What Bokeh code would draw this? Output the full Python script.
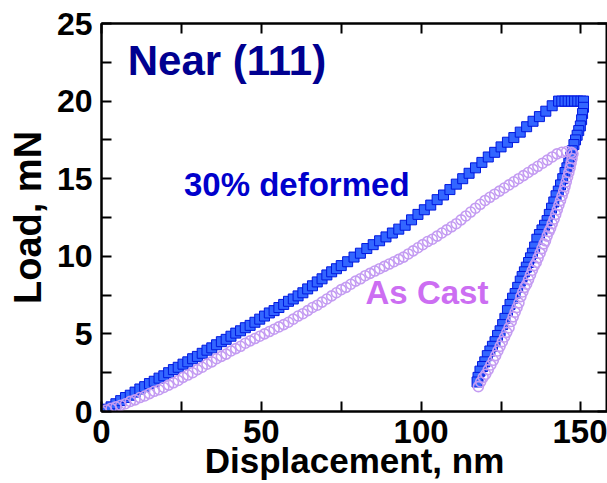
from bokeh.plotting import figure
from bokeh.models import Range1d, FixedTicker, LinearAxis, Label
from bokeh.embed import file_html
from bokeh.resources import INLINE

# ---------------- data ----------------
# 30% deformed: loading, hold, unloading
def_load_x = [0, 1.5, 3, 4.5, 6, 7.5, 9, 10.5, 12, 13.5, 15, 16.5, 18, 19.5, 21, 22.5, 24, 25.5,
              27, 28.5, 30, 31.5, 33, 34.5, 36, 37.5, 39, 40.5, 42, 43.5, 45, 46.5, 48, 49.5,
              51, 52.5, 54, 55.5, 57, 58.5, 60, 61.5, 63, 64.5, 66, 67.5, 69, 70.5, 72, 73.5,
              75, 77, 79, 81, 83, 85, 87, 89, 91, 93, 95, 97, 99, 101, 103, 105, 107, 109, 111,
              113, 115, 117, 119, 121, 123, 125, 127, 129, 131, 133, 135, 137, 139, 141, 143]
def_load_y = [0.0, 0.15, 0.3, 0.5, 0.7, 0.9, 1.05, 1.25, 1.45, 1.6, 1.8, 1.95, 2.15, 2.3, 2.5, 2.7,
              2.85, 3.05, 3.2, 3.4, 3.55, 3.75, 3.95, 4.1, 4.3, 4.5, 4.65, 4.85, 5.05, 5.2, 5.4,
              5.55, 5.75, 5.95, 6.15, 6.35, 6.5, 6.7, 6.9, 7.1, 7.25, 7.45, 7.65, 7.9, 8.1, 8.35,
              8.55, 8.8, 9.0, 9.2, 9.4, 9.65, 9.95, 10.2, 10.5, 10.75, 11.0, 11.25, 11.5, 11.75,
              12.0, 12.35, 12.7, 13.0, 13.3, 13.65, 13.95, 14.3, 14.65, 15.0, 15.35, 15.7, 16.05,
              16.4, 16.7, 17.05, 17.35, 17.65, 18.0, 18.35, 18.7, 19.0, 19.35, 19.7, 20.0]
def_hold_x = [144, 145, 146, 147, 148, 149, 150, 150.8]
def_hold_y = [20.0, 20.0, 20.0, 20.0, 20.0, 20.0, 20.0, 20.0]
def_unload_x = [150.8, 150.5, 150.2, 149.8, 149.3, 148.8, 148.3, 147.8, 147.3, 146.8, 146.2, 145.6,
                145.0, 144.3, 143.6, 142.9, 142.2, 141.5, 140.8, 140.1, 139.4, 138.6, 137.8, 137.0,
                136.2, 135.5, 134.8, 134.2, 133.6, 132.9, 132.3, 131.6, 131.0, 130.2, 129.4, 128.6,
                127.8, 127.0, 126.2, 125.5, 124.7, 123.9, 123.1, 122.3, 121.5, 120.7, 119.9, 119.2,
                118.4, 117.8, 117.5]
def_unload_y = [19.6, 19.2, 18.8, 18.4, 18.1, 17.8, 17.5, 17.2, 16.8, 16.4, 16.0, 15.7, 15.4, 15.0,
                14.6, 14.2, 13.9, 13.5, 13.1, 12.7, 12.3, 12.0, 11.7, 11.4, 11.1, 10.6, 10.2, 9.9,
                9.6, 9.3, 9.0, 8.7, 8.4, 8.0, 7.6, 7.3, 6.9, 6.5, 6.0, 5.6, 5.2, 4.9, 4.5, 4.2, 3.9,
                3.6, 3.2, 2.9, 2.6, 2.2, 1.9]

# As cast: loading, unloading
cast_load_x = [0, 1.5, 3, 4.5, 6, 7.5, 9, 10.5, 12, 13.5, 15, 16.5, 18, 19.5, 21, 22.5, 24, 25.5,
               27, 28.5, 30, 31.5, 33, 34.5, 36, 37.5, 39, 40.5, 42, 43.5, 45, 46.5, 48, 49.5,
               51, 52.5, 54, 55.5, 57, 58.5, 60, 61.5, 63, 64.5, 66, 67.5, 69, 70.5, 72, 73.5,
               75, 76.5, 78, 79.5, 81, 82.5, 84, 85.5, 87, 88.5, 90, 91.5, 93, 94.5, 96, 97.5,
               99, 100.5, 102, 103.5, 105, 106.5, 108, 109.5, 111, 112.5, 114, 115.5, 117, 118.5,
               120, 121.5, 123, 124.5, 126, 127.5, 129, 130.5, 132, 133.5, 135, 136.5, 138, 139.5,
               141, 142.5, 144, 145.5, 147]
cast_load_y = [0.0, 0.1, 0.2, 0.3, 0.4, 0.5, 0.65, 0.75, 0.9, 1.0, 1.15, 1.3, 1.4, 1.55, 1.7, 1.85,
               2.0, 2.2, 2.35, 2.5, 2.7, 2.85, 3.05, 3.2, 3.4, 3.55, 3.7, 3.9, 4.05, 4.2, 4.4, 4.55,
               4.7, 4.85, 5.0, 5.15, 5.3, 5.45, 5.6, 5.75, 5.95, 6.15, 6.3, 6.5, 6.7, 6.85, 7.05,
               7.25, 7.45, 7.65, 7.85, 8.0, 8.2, 8.4, 8.55, 8.75, 8.9, 9.05, 9.2, 9.35, 9.5, 9.65,
               9.8, 9.95, 10.15, 10.35, 10.55, 10.75, 10.95, 11.1, 11.3, 11.5, 11.7, 11.9, 12.1,
               12.35, 12.6, 12.85, 13.1, 13.35, 13.6, 13.8, 14.0, 14.2, 14.4, 14.6, 14.8, 15.0,
               15.2, 15.4, 15.6, 15.8, 16.0, 16.2, 16.4, 16.6, 16.7, 16.75, 16.7]
cast_unload_x = [147.5, 147.2, 146.9, 146.6, 146.2, 145.8, 145.4, 145.0, 144.6, 144.1, 143.6, 143.1,
                 142.6, 142.1, 141.6, 141.0, 140.5, 140.0, 139.4, 138.9, 138.4, 137.8, 137.2,
                 136.6, 136.0, 135.4, 134.8, 134.2, 133.6, 133.0, 132.4, 131.8, 131.2, 130.6,
                 130.0, 129.4, 128.8, 128.2, 127.5, 126.8, 126.1, 125.4, 124.7, 124.0, 123.3,
                 122.6, 121.8, 121.0, 120.2, 119.4, 118.6, 117.9]
cast_unload_y = [16.6, 16.3, 16.0, 15.7, 15.4, 15.1, 14.8, 14.5, 14.2, 13.9, 13.6, 13.3, 13.0, 12.7,
                 12.4, 12.1, 11.8, 11.6, 11.3, 11.0, 10.8, 10.5, 10.2, 9.9, 9.6, 9.4, 9.1, 8.8, 8.5,
                 8.2, 8.0, 7.7, 7.4, 7.0, 6.7, 6.4, 6.1, 5.8, 5.4, 5.1, 4.8, 4.5, 4.2, 3.9, 3.6,
                 3.3, 3.0, 2.7, 2.4, 2.2, 1.9, 1.6]

x_label_ticks = [0, 50, 100, 150]
x_other_ticks = [25, 75, 125]
x_all_ticks = [0, 25, 50, 75, 100, 125, 150]
y_label_ticks = [0, 5, 10, 15, 20, 25]
y_other_ticks = [2.5, 7.5, 12.5, 17.5, 22.5]
y_all_ticks = [0, 2.5, 5, 7.5, 10, 12.5, 15, 17.5, 20, 22.5, 25]

FONT = "Liberation Sans"

p = figure(width=607, height=483, output_backend="svg", toolbar_location=None,
           x_range=Range1d(0, 158.3), y_range=Range1d(0, 25),
           min_border_left=101, min_border_right=0, min_border_top=23, min_border_bottom=72)
p.grid.visible = False
p.outline_line_color = "black"
p.outline_line_width = 2
p.background_fill_color = "white"
p.border_fill_color = "white"


def style_axis(ax, major, minor, size):
    ax.ticker = FixedTicker(ticks=major, minor_ticks=minor)
    for pre in ("major", "minor"):
        setattr(ax, pre + "_tick_in", 10)
        setattr(ax, pre + "_tick_out", 0)
        setattr(ax, pre + "_tick_line_width", 2)
        setattr(ax, pre + "_tick_line_color", "black")
    ax.axis_line_width = 2
    ax.axis_line_color = "black"
    ax.major_label_text_font = FONT
    ax.major_label_text_font_style = "bold"
    ax.major_label_text_font_size = size
    ax.major_label_text_color = "black"


xa = p.xaxis[0]
style_axis(xa, x_label_ticks, x_other_ticks, "33px")
xa.major_label_standoff = 8
xa.axis_label = "Displacement, nm"
xa.axis_label_text_font = FONT
xa.axis_label_text_font_style = "bold"
xa.axis_label_text_font_size = "35px"
xa.axis_label_text_color = "black"
xa.axis_label_standoff = -5

ya = p.yaxis[0]
style_axis(ya, y_label_ticks, y_other_ticks, "32px")
ya.major_label_standoff = 9
ya.axis_label = "Load, mN"
ya.axis_label_text_font = FONT
ya.axis_label_text_font_style = "bold"
ya.axis_label_text_font_size = "38px"
ya.axis_label_text_color = "black"
ya.axis_label_standoff = 5

# frame ticks on top and right: tick marks only, no labels
top_ax = LinearAxis()
style_axis(top_ax, [], x_all_ticks, "10px")
top_ax.major_label_standoff = 0
p.add_layout(top_ax, "above")

right_ax = LinearAxis()
style_axis(right_ax, [], y_all_ticks, "10px")
right_ax.major_label_standoff = 0
p.add_layout(right_ax, "right")

# 30% deformed (blue squares)
for xs, ys in ((def_load_x, def_load_y), (def_hold_x, def_hold_y), (def_unload_x, def_unload_y)):
    p.scatter(xs, ys, marker="square", size=10, fill_color="#3366FF",
              line_color="#0018E0", line_width=1)

# As cast (hollow lavender circles)
for xs, ys in ((cast_load_x, cast_load_y), (cast_unload_x, cast_unload_y)):
    p.scatter(xs, ys, marker="circle", size=10, fill_color=None,
              line_color="#C49CF2", line_width=1.6)

p.add_layout(Label(x=8.2, y=21.1, text="Near (111)", text_font=FONT, text_font_style="bold",
                   text_font_size="42px", text_color="#000090"))
p.add_layout(Label(x=25.8, y=13.45, text="30% deformed", text_font=FONT, text_font_style="bold",
                   text_font_size="33px", text_color="#0000CC"))
p.add_layout(Label(x=82.6, y=6.5, text="As Cast", text_font=FONT, text_font_style="bold",
                   text_font_size="33px", text_color="#CC6EF2"))

open("out.html", "w").write(file_html(p, INLINE))
